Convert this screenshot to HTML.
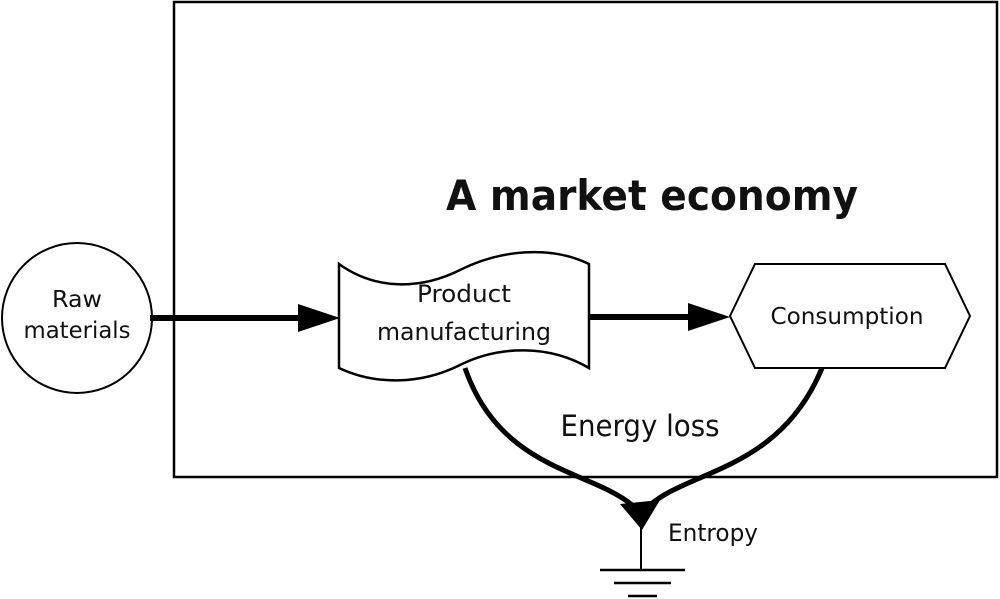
<!DOCTYPE html>
<html><head><style>body{margin:0;background:#fff}svg{display:block}text{font-family:"DejaVu Sans","Liberation Sans",sans-serif;fill:#111}</style></head>
<body><svg width="1000" height="599" viewBox="0 0 1000 599">
<rect x="174" y="2" width="823" height="475" fill="none" stroke="#000" stroke-width="2.5"/>
<circle cx="77" cy="318" r="75" fill="#fff" stroke="#000" stroke-width="2"/>
<text x="77" y="307" font-size="23" text-anchor="middle" textLength="50" lengthAdjust="spacingAndGlyphs">Raw</text>
<text x="77" y="338" font-size="23" text-anchor="middle" textLength="107" lengthAdjust="spacingAndGlyphs">materials</text>
<line x1="150" y1="318" x2="302" y2="318" stroke="#000" stroke-width="6"/>
<polygon points="298,304 340,318 298,332" fill="#000"/>
<path d="M339,264 C375,290 420,290 460,270 C500,250 550,245 589,264 L589,368 C550,345 500,345 460,365 C420,385 375,385 339,368 Z" fill="#fff" stroke="#000" stroke-width="2.5"/>
<text x="464" y="302" font-size="24" text-anchor="middle" textLength="94" lengthAdjust="spacingAndGlyphs">Product</text>
<text x="464" y="340" font-size="24" text-anchor="middle" textLength="174" lengthAdjust="spacingAndGlyphs">manufacturing</text>
<line x1="589" y1="317" x2="692" y2="317" stroke="#000" stroke-width="6"/>
<polygon points="688,303 730,317 688,331" fill="#000"/>
<polygon points="730,316 755,264 945,264 970,316 945,368 755,368" fill="#fff" stroke="#000" stroke-width="2"/>
<text x="847" y="324" font-size="23" text-anchor="middle" textLength="153" lengthAdjust="spacingAndGlyphs">Consumption</text>
<text x="446" y="210" font-size="42" font-weight="bold" textLength="412" lengthAdjust="spacingAndGlyphs">A market economy</text>
<text x="640" y="436" font-size="29" text-anchor="middle" textLength="159" lengthAdjust="spacingAndGlyphs">Energy loss</text>
<path d="M465,368 C500,470 590,470 632,505" fill="none" stroke="#000" stroke-width="5"/>
<path d="M822,368 C780,470 690,470 650,505" fill="none" stroke="#000" stroke-width="5"/>
<polygon points="620,504 660,500 642,530" fill="#000"/>
<line x1="641" y1="528" x2="641" y2="570" stroke="#000" stroke-width="2"/>
<line x1="600" y1="570" x2="685" y2="570" stroke="#000" stroke-width="2.5"/>
<line x1="614" y1="583" x2="671" y2="583" stroke="#000" stroke-width="2.5"/>
<line x1="628" y1="596" x2="657" y2="596" stroke="#000" stroke-width="2.5"/>
<text x="668" y="541" font-size="24" textLength="90" lengthAdjust="spacingAndGlyphs">Entropy</text>
</svg></body></html>
